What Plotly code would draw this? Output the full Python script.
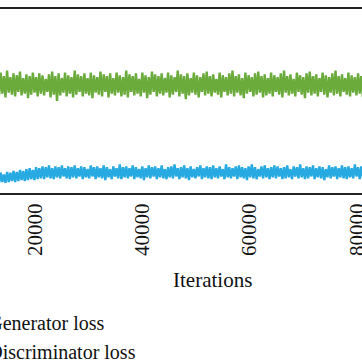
import plotly.graph_objects as go

# Generator loss (alternating band extremes)
generator_loss = [
    1.29,1.06,1.31,1.08,1.27,1.04,1.33,1.09,1.26,1.07,1.30,1.05,
    1.28,1.10,1.32,1.06,1.25,1.08,1.29,1.03,1.27,1.07,1.31,1.09,
    1.26,1.05,1.30,1.08,1.28,1.06,1.24,1.10,1.29,1.04,1.32,1.07,
    1.27,1.00,1.30,1.06,1.25,1.09,1.31,1.05,1.28,1.08,1.26,1.04,
    1.33,1.07,1.29,1.10,1.27,1.05,1.30,1.08,1.25,1.06,1.31,1.03,
    1.28,1.09,1.26,1.07,1.32,1.05,1.29,1.10,1.27,1.04,1.30,1.08,
    1.25,1.06,1.31,1.09,1.28,1.05,1.26,1.07,1.33,1.04,1.29,1.10,
    1.27,1.06,1.30,1.08,1.24,1.05,1.31,1.09,1.28,1.03,1.26,1.07,
    1.32,1.10,1.29,1.05,1.27,1.08,1.30,1.06,1.25,1.09,1.31,1.04,
    1.28,1.07,1.26,1.10,1.33,1.05,1.29,1.08,1.27,1.02,1.30,1.06,
    1.25,1.09,1.31,1.07,1.28,1.04,1.26,1.10,1.30,1.06,1.32,1.08,
    1.27,1.05,1.29,1.09,1.24,1.07,1.31,1.04,1.28,1.10,1.26,1.06,
    1.30,1.08,1.33,1.05,1.27,1.09,1.29,1.06,1.25,1.03,1.31,1.08,
    1.28,1.10,1.26,1.05,1.30,1.07,1.32,1.09,1.27,1.04,1.29,1.06,
    1.25,1.08,1.31,1.05,1.28,1.10,1.26,1.07,1.30,1.04,1.33,1.09,
    1.27,1.06,1.29,1.08,1.24,1.05,1.31,1.10,1.28,1.07,1.26,1.03,
    1.30,1.09,1.32,1.06,1.27,1.08,1.29,1.05,1.25,1.10,1.31,1.07,
    1.28,1.04,1.26,1.09,1.30,1.06,1.33,1.08,1.27,1.05,1.29,1.10,
    1.25,1.07,1.31,1.05,1.28,1.09,1.26,1.06,1.30,1.08,1.27,1.04,
]

# Discriminator loss
discriminator_loss = [
    0.21,0.11,0.22,0.12,0.20,0.11,0.23,0.12,0.22,0.13,0.24,0.12,
    0.23,0.13,0.25,0.14,0.24,0.13,0.26,0.14,0.27,0.15,0.25,0.14,
    0.28,0.15,0.27,0.16,0.29,0.15,0.28,0.17,0.30,0.16,0.27,0.15,
    0.29,0.17,0.28,0.16,0.30,0.18,0.27,0.16,0.29,0.15,0.28,0.17,
    0.30,0.16,0.27,0.18,0.29,0.15,0.28,0.17,0.26,0.16,0.30,0.18,
    0.28,0.15,0.29,0.17,0.27,0.16,0.30,0.14,0.28,0.17,0.26,0.15,
    0.29,0.18,0.27,0.16,0.31,0.15,0.28,0.17,0.29,0.16,0.27,0.18,
    0.30,0.15,0.28,0.17,0.26,0.16,0.29,0.14,0.27,0.17,0.30,0.16,
    0.28,0.18,0.29,0.15,0.27,0.17,0.30,0.16,0.26,0.15,0.28,0.17,
    0.29,0.16,0.31,0.18,0.27,0.15,0.28,0.17,0.30,0.16,0.27,0.14,
    0.29,0.17,0.26,0.16,0.28,0.18,0.30,0.15,0.27,0.17,0.29,0.16,
    0.28,0.15,0.30,0.17,0.27,0.16,0.29,0.18,0.26,0.15,0.31,0.17,
    0.28,0.16,0.27,0.18,0.29,0.15,0.30,0.17,0.28,0.16,0.27,0.14,
    0.29,0.17,0.31,0.16,0.28,0.15,0.26,0.18,0.29,0.16,0.30,0.17,
    0.27,0.15,0.28,0.17,0.30,0.16,0.29,0.18,0.27,0.15,0.28,0.16,
    0.30,0.17,0.26,0.15,0.29,0.18,0.28,0.16,0.31,0.17,0.27,0.15,
    0.29,0.16,0.28,0.18,0.30,0.15,0.27,0.17,0.29,0.16,0.28,0.14,
    0.26,0.17,0.30,0.16,0.28,0.18,0.29,0.15,0.27,0.17,0.30,0.16,
    0.28,0.15,0.29,0.17,0.27,0.16,0.31,0.18,0.28,0.15,0.29,0.17,
]

iterations = [13000 + 300 * i for i in range(len(generator_loss))]
tick_values = [20000, 40000, 60000, 80000]
tick_labels = ["20000", "40000", "60000", "80000"]

FONT = "Liberation Serif"
FS = 21

fig = go.Figure()
fig.add_trace(go.Scatter(x=iterations, y=generator_loss, mode="lines",
                         name="Generator loss",
                         line=dict(color="#6aab3c", width=2.4)))
fig.add_trace(go.Scatter(x=iterations, y=discriminator_loss, mode="lines",
                         name="Discriminator loss",
                         line=dict(color="#27a9e1", width=2.4)))

fig.update_layout(
    width=362, height=362,
    margin=dict(l=0, r=0, t=9, b=169, autoexpand=False),
    paper_bgcolor="white", plot_bgcolor="white",
    font=dict(family=FONT, size=FS, color="#111"),
    showlegend=True,
    legend=dict(x=-0.143, y=-0.595, xanchor="left", yanchor="top",
                orientation="v", bgcolor="rgba(0,0,0,0)",
                font=dict(family=FONT, size=20, color="#111"),
                tracegroupgap=0, itemsizing="constant"),
    annotations=[dict(text="Iterations", x=0.586, y=-0.473, xref="paper", yref="paper",
                      xanchor="center", yanchor="middle", showarrow=False,
                      font=dict(family=FONT, size=FS, color="#111"))],
)
fig.update_xaxes(range=[13478, 80932], tickvals=tick_values, ticktext=tick_labels,
                 tickangle=-90, ticks="", showgrid=False, zeroline=False,
                 showline=True, linecolor="#222", linewidth=2, mirror=True,
                 ticklabeloverflow="allow",
                 tickfont=dict(family=FONT, size=FS, color="#111"))
fig.update_yaxes(range=[0, 2], showticklabels=False, ticks="", showgrid=False,
                 zeroline=False, showline=False)

fig.write_html("out.html", config={"displayModeBar": False},
               post_script="document.body.style.margin='0';document.body.style.overflow='hidden';")
